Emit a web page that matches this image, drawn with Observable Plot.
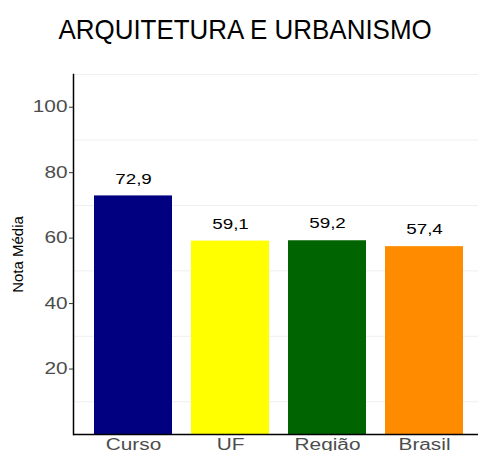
<!DOCTYPE html>
<html>
<head>
<meta charset="utf-8">
<script src="https://cdn.jsdelivr.net/npm/d3@7"></script>
<script src="https://cdn.jsdelivr.net/npm/@observablehq/plot@0.6"></script>
<style>
  html, body { margin: 0; padding: 0; background: #fff; }
  #title { font-family: "Liberation Sans", Arial, sans-serif; font-size: 28.5px; line-height: 30px;
           height: 60px; box-sizing: border-box; padding-top: 13.5px; padding-left: 12px; text-align: center; color: #000; }
  #title span { display: inline-block; transform: scaleX(0.91); transform-origin: center; white-space: nowrap; }
  svg { display: block; }
</style>
</head>
<body>
<div id="title"><span>ARQUITETURA E URBANISMO</span></div>
<div id="chart"></div>
<script>
const categorias = ["Curso", "UF", "Região", "Brasil"];
const notas = [72.9, 59.1, 59.2, 57.4];
const cores = ["#000080", "#FFFF00", "#006400", "#FF8C00"];
const yTicks = [20, 40, 60, 80, 100];
const gradeMenor = [10, 30, 50, 70, 90, 110];
const rotulos = notas.map(v => v.toFixed(1).replace(".", ","));
const tituloY = ["Nota Média"];

const dados = categorias.map((c, i) => ({categoria: c, nota: notas[i], rotulo: rotulos[i]}));

const chart = Plot.plot({
  width: 478,
  height: 410,
  marginLeft: 73,
  marginRight: 0,
  marginTop: 14,
  marginBottom: 36,
  style: {fontFamily: "'Liberation Sans', Arial, sans-serif", background: "#fff"},
  x: {domain: categorias, range: [73, 484], padding: 0.2, label: null},
  y: {domain: [0, 110], range: [374, 14], label: null},
  color: {domain: categorias, range: cores},
  marks: [
    Plot.ruleY(gradeMenor, {stroke: "#efefef", strokeWidth: 1}),
    Plot.barY(dados, {x: "categoria", y: "nota", fill: "categoria"}),
    Plot.text(dados, {x: "categoria", y: "nota", text: "rotulo", dy: -17, fontSize: 14.5, fill: "#000", lineAnchor: "middle"}),
    Plot.ruleY([0], {stroke: "#000", strokeWidth: 1.5}),
    Plot.frame({anchor: "left", stroke: "#000", strokeWidth: 1.5}),
    Plot.axisY(yTicks, {tickSize: 4, tickPadding: 2, fontSize: 16, color: "#4d4d4d", stroke: "#333", label: null}),
    Plot.axisX({tickSize: 0, tickPadding: 4, fontSize: 16, color: "#4d4d4d", label: null}),
    Plot.text(tituloY, {frameAnchor: "left", textAnchor: "middle", dx: -55, rotate: -90, fontSize: 15, fill: "#000", lineAnchor: "middle"})
  ]
});
document.getElementById("chart").appendChild(chart);

// horizontal stretch of tick/value labels to match the reference glyph proportions
const alvo = [...chart.querySelectorAll('g[aria-label="y-axis tick label"] text, g[aria-label="x-axis tick label"] text')];
const valores = [...chart.querySelectorAll('g[aria-label="text"]')][0];
if (valores) alvo.push(...valores.querySelectorAll("text"));
alvo.forEach(t => {
  const w = t.getComputedTextLength();
  t.setAttribute("textLength", w * 1.3);
  t.setAttribute("lengthAdjust", "spacingAndGlyphs");
});
</script>
</body>
</html>
